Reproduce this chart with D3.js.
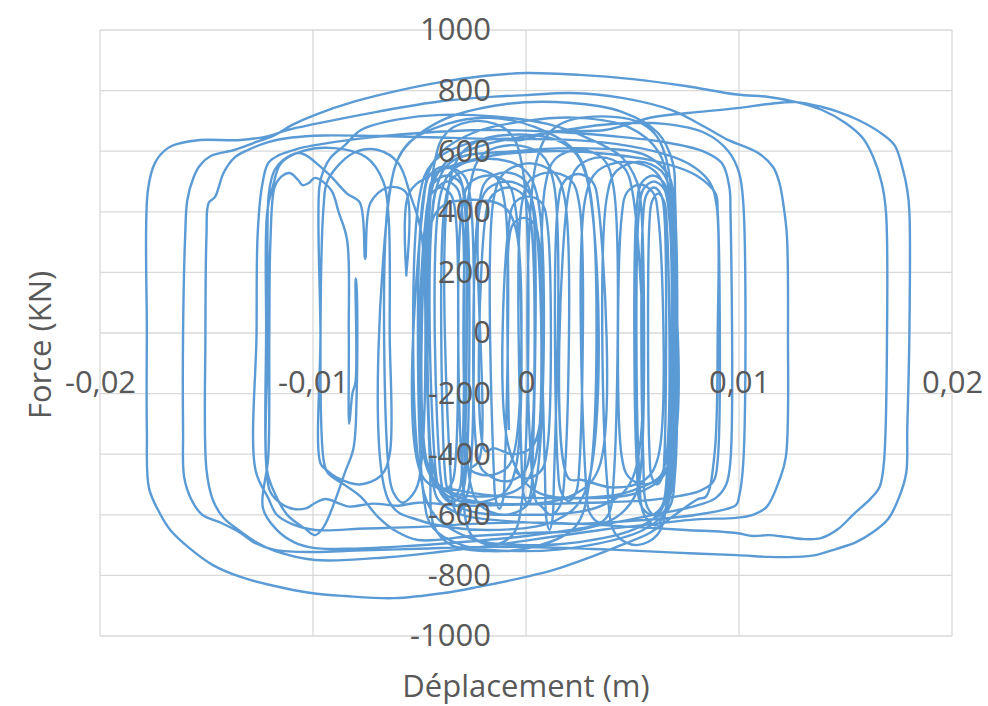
<!DOCTYPE html>
<html>
<head>
<meta charset="utf-8">
<script src="https://cdn.jsdelivr.net/npm/d3@7"></script>
<style>
  body { margin: 0; background: #fff; }
  #graph-container { width: 988px; height: 706px; }
  .tick text { font-family: "Open Sans", sans-serif; font-size: 31px; fill: #595959; }
  .title { font-family: "Open Sans", sans-serif; font-size: 31px; fill: #595959; }
</style>
</head>
<body>
<div id="graph-container"></div>
<script>
// DATA (displacement in mm, force in kN)
const xTicks = [-20, -10, 0, 10, 20]
const xTickLabels = ['-0,02', '-0,01', '0', '0,01', '0,02']
const yTicks = [-1000, -800, -600, -400, -200, 0, 200, 400, 600, 800, 1000]

// small central cycles
const loopC1 = [[-0.8,-320],[-0.8,305],[-0.6,360],[-0.1,380],[0.4,360],[0.6,305],[0.6,-320],[0.22,-380],[-0.65,-400],[-1.52,-380]]
const loopC2 = [[-1.9,-390],[-1.9,385],[-1.58,455],[-0.85,480],[-0.12,455],[0.2,385],[0.2,-390],[-0.16,-465],[-1.0,-490],[-1.84,-465]]
const loopC11 = [[-2.2,-430],[-2.2,425],[-1.83,505],[-0.95,530],[-0.08,505],[0.3,425],[0.3,-450],[0.22,-530],[0.05,-560],[-0.12,-530]]
const loopC3 = [[-0.2,-445],[-0.2,425],[0.2,505],[1.15,530],[2.1,505],[2.5,425],[2.5,-445],[2.35,-525],[2.0,-555],[1.65,-525]]
const loopC6 = [[1.5,-450],[1.5,420],[1.79,500],[2.45,525],[3.11,500],[3.4,420],[3.4,-450],[2.2,-535],[-0.6,-565],[-3.4,-535]]
const loopC4 = [[-4.6,-455],[-4.6,435],[-4.3,518],[-3.6,545],[-2.9,518],[-2.6,435],[-2.6,-455],[-2.81,-540],[-3.3,-570],[-3.79,-540]]
const loopC5 = [[-4.0,-480],[-4.0,460],[-3.32,545],[-1.75,575],[-0.18,545],[0.5,460],[0.5,-480],[0.03,-570],[-1.05,-600],[-2.13,-570]]
const loopC15 = [[-2.6,-500],[-2.6,495],[-2.01,590],[-0.65,620],[0.71,590],[1.3,495],[1.3,-520],[1.24,-615],[1.1,-650],[0.96,-615]]
const loopC12 = [[0.9,-500],[0.9,485],[1.38,575],[2.5,605],[3.62,575],[4.1,485],[4.1,-500],[3.9,-595],[3.45,-625],[3.0,-595]]
const loopC7 = [[2.8,-480],[2.8,450],[3.37,535],[4.7,565],[6.03,535],[6.6,450],[6.6,-480],[6.39,-570],[5.9,-600],[5.41,-570]]
const loopC8 = [[5.2,-435],[5.2,415],[5.42,495],[5.95,520],[6.48,495],[6.7,415],[6.7,-435],[5.0,-520],[0.95,-545],[-3.1,-520]]
const loopC10 = [[-4.8,-480],[-4.8,440],[-4.51,522],[-3.85,550],[-3.19,522],[-2.9,440],[-2.9,-480],[-2.99,-570],[-3.2,-600],[-3.41,-570]]
const loopC13 = [[-3.5,-520],[-3.5,525],[-2.55,622],[-0.35,655],[1.85,622],[2.8,525],[2.8,-520],[1.42,-618],[-1.8,-650],[-5.02,-618]]

// medium cycles
const loopM2 = [[-6.4,-560],[-6.4,460],[-5.8,600],[-4,700],[-1,755],[2,760],[4.5,730],[6.2,660],[6.9,560],[7.0,450],[7.0,-460],[6.7,-580],[5.5,-650],[3,-700],[0,-720],[-3,-700],[-4.4,-640]]
const loopM3 = [[-4.8,-540],[-4.8,460],[-4.2,580],[-2.5,660],[0,700],[2.5,710],[4.8,680],[6.2,600],[6.7,470],[6.7,-460],[6.3,-590],[5,-650],[2.5,-690],[0,-700],[-2.5,-680],[-4.3,-600]]

// large cycles
const loopBig = [
  [-5.0,-450],[-5.0,450],[-4.4,560],[-2.5,630],[0.5,640],[3.5,630],[6,600],[7.6,560],[8.6,500],[8.95,420],
  [9.0,0],[8.85,-400],[8.45,-540],[8.07,-548],[7,-600],[5.8,-660],[4.46,-700],[2.9,-743],[1.3,-782],[0,-805],
  [-2.25,-838],[-3.85,-858],[-6.2,-875],[-8.5,-868],[-10.1,-858],[-11.8,-835],[-13.4,-805],[-14.7,-766],[-15.8,-710],
  [-16.7,-650],[-17.2,-594],[-17.7,-512],[-17.8,-320],[-17.8,0],[-17.75,472],[-17.4,564],[-16.8,611],[-16.2,627],
  [-15.3,637],[-13.4,637],[-12.1,650],[-11.2,670],[-9.9,690],[-7,730],[-4,765],[-1.5,780],[0,785],[2.1,792],
  [4.5,776],[6.8,736],[8.4,680],[9.4,640],[10.9,594],[11.6,548],[11.9,495],[12.1,416],[12.25,320],[12.3,0],
  [12.2,-409],[11.9,-485],[11.3,-574],[10.65,-600],[9.86,-610],[8,-615],[6,-630],[3.5,-650],[1,-675],[-1.5,-700],
  [-4,-722],[-6.5,-740],[-9.9,-749],[-11.8,-719],[-12.6,-693],[-13.5,-650],[-14.2,-610],[-14.7,-551],[-15.0,-452],
  [-15.05,0],[-15.0,323],[-14.9,429],[-14.6,449],[-14.2,528],[-13.7,578],[-13.05,604],[-12.1,630],[-11,645],
  [-9.5,652],[-7,650],[-4,645],[-1.5,640],[-0.2,637],[1.3,665],[3.7,670],[6.0,713],[7.6,726],[9.9,742],
  [11.4,756],[12.7,762],[13.9,746],[14.7,729],[15.6,703],[16.6,663],[17.3,620],[17.7,538],[17.9,472],[18.0,400],
  [18.0,0],[17.9,-320],[17.85,-462],[17.5,-545],[17.0,-614],[16.3,-657],[15.5,-690],[14.55,-713],[13.6,-733],
  [12.6,-739],[11.4,-739],[9.9,-733],[7,-725],[4,-715],[1,-708],[-2,-706],[-5,-712],[-8,-718],[-9.9,-723],
  [-11.8,-716],[-12.8,-690],[-13.4,-660],[-14.3,-627],[-15.2,-600],[-15.7,-551],[-16.05,-475],[-16.1,-320],
  [-16.1,0],[-16.0,323],[-15.9,439],[-15.6,515],[-15.3,554],[-14.8,584],[-13.7,604],[-12.8,627],[-11.8,653],
  [-11.0,686],[-9.9,720],[-8,765],[-6,800],[-4,828],[-2,848],[0,858],[2.5,852],[5,838],[7.5,815],[9.9,787],
  [11.4,779],[12.7,762],[13.9,736],[15,693],[15.8,644],[16.3,581],[16.7,495],[16.9,400],[16.95,0],[16.8,-430],
  [16.6,-508],[16.2,-545],[15.35,-600],[14.65,-647],[13.85,-677],[13.0,-680],[12.2,-673],[11.4,-667],[10.65,-670],
  [9.86,-660],[7.5,-650],[5,-640],[2.5,-630],[0,-625],[-2.5,-630],[-5,-640],[-7.5,-645],[-9.9,-650],[-11,-630],
  [-11.7,-600],[-12.1,-545]
]

// cycles reversing near -12 mm and -9.6 mm
const loopK1 = [[-12.7,-452],[-12.65,0],[-12.6,323],[-12.4,482],[-12.1,561],[-11.6,587],[-11.2,597],[-10.6,610],[-9.9,620],[-8,640],[-5,660],[-2,670],[1,665],[4,650],[6.5,630],[8.3,600],[9.2,560],[9.55,480],[9.6,400],[9.6,-420],[9.4,-500],[8.9,-545],[8,-570],[6,-600],[3,-640],[0,-670],[-3,-690],[-6,-705],[-8.5,-712],[-9.9,-710],[-10.9,-690],[-11.7,-650],[-12.35,-578]]
const loopK3 = [[-12.1,-409],[-12.05,0],[-12.0,300],[-11.8,482],[-11.5,515],[-11.1,528],[-10.7,505],[-10.5,488],[-10.2,495],[-9.9,512],[-9.15,472],[-8.8,400],[-8.4,307],[-8.32,0],[-8.3,-300],[-8.15,-200],[-8.0,-160],[-8.0,180],[-7.95,150],[-7.95,-200],[-8.1,-380],[-8.5,-460],[-9.0,-560],[-9.5,-640],[-9.9,-667],[-10.4,-644],[-11.2,-601],[-11.8,-528]]
const loopK2 = [[-12.16,-452],[-12.1,0],[-12.07,462],[-11.8,538],[-11.4,571],[-10.9,591],[-10.6,594],[-10.2,581],[-9.9,564],[-9.2,520],[-8.4,460],[-7.8,430],[-7.55,245],[-7.3,430],[-6.5,480],[-5.65,465],[-5.62,190],[-5.5,460],[-4.5,520],[-2,580],[1,600],[4,590],[6.5,560],[8,520],[8.9,460],[9.0,400],[9.0,-420],[8.8,-490],[8.2,-520],[6,-550],[3,-560],[0,-565],[-3,-570],[-5.07,-560],[-6,-570],[-7.2,-563],[-8.3,-573],[-8.75,-563],[-9.4,-548],[-9.9,-561],[-10.3,-578],[-10.9,-581],[-11.4,-568],[-12.0,-525]]
const loopK5 = [[-12.2,-430],[-12.2,0],[-12.15,400],[-11.9,480],[-11.5,560],[-10.5,600],[-9,610],[-7.5,580],[-6.7,500],[-6.45,380],[-6.4,0],[-6.4,-400],[-6.8,-470],[-7.8,-500],[-8.8,-480],[-9.4,-450]]
const loopK4 = [[-9.65,-430],[-9.65,0],[-9.7,482],[-9.5,538],[-9.15,581],[-8.5,620],[-7.75,670],[-6,705],[-4,720],[-1.5,715],[1,690],[3,640],[4.5,580],[5.2,500],[5.4,420],[5.4,-440],[5.1,-540],[4.2,-610],[2.5,-650],[0,-660],[-2.5,-670],[-5.07,-683],[-6.2,-650],[-6.95,-607],[-7.75,-541],[-8.5,-502],[-9.3,-462]]
const loopH1 = [[-9.5,-420],[-9.5,420],[-9.3,505],[-8.1,594],[-6.95,604],[-6.0,561],[-5.4,449],[-4.9,323],[-4.9,-420],[-5.2,-520],[-5.8,-560],[-6.2,-530]]
const loopM4 = [[-6.4,-480],[-6.4,470],[-5.6,620],[-3.7,690],[-1.7,710],[0.4,680],[2.3,600],[3.0,470],[3.0,-480],[2.3,-640],[0.4,-705],[-1.7,-720],[-3.5,-700],[-4.3,-640]]
const loopM1 = [[-4.5,-450],[-4.5,450],[-3.8,560],[-2,620],[1,660],[4,690],[6.5,690],[8.4,660],[9.5,600],[10.0,530],[10.2,430],[10.2,-429],[10.0,-541],[9.86,-568],[8,-600],[5,-620],[2,-630],[-1,-620],[-3,-600],[-4.0,-560]]

// late central cycles
const loopC17 = [[-4.3,-520],[-4.3,560],[-3.68,665],[-2.25,700],[-0.82,665],[-0.2,560],[-0.2,-560],[-0.62,-665],[-1.6,-700],[-2.58,-665]]
const loopN1 = [[-3.0,-450],[-3.0,415],[-2.63,495],[-1.75,520],[-0.88,495],[-0.5,415],[-0.5,-450],[-1.08,-530],[-2.45,-560],[-3.82,-530]]
const loopN2 = [[-4.4,-430],[-4.4,400],[-4.19,475],[-3.7,500],[-3.21,475],[-3.0,400],[-3.0,-430],[-3.12,-515],[-3.4,-540],[-3.68,-515]]
const loopN4 = [[-3.8,-465],[-3.8,430],[-3.38,515],[-2.4,540],[-1.42,515],[-1.0,430],[-1.0,-465],[-1.08,-550],[-1.25,-580],[-1.42,-550]]
const loopN3 = [[-1.5,-480],[-1.5,450],[-1.0,530],[0.15,560],[1.3,530],[1.8,450],[1.8,-480],[1.6,-570],[1.15,-600],[0.7,-570]]
const loopC18 = [[0.5,-560],[0.5,570],[1.4,680],[3.55,715],[5.7,680],[6.6,570],[6.6,-560],[6.18,-665],[5.2,-700],[4.22,-665]]
const loopC14 = [[3.8,-485],[3.8,450],[4.25,535],[5.3,565],[6.35,535],[6.8,450],[6.8,-485],[6.6,-575],[6.15,-605],[5.7,-575]]
const loopC9 = [[5.5,-400],[5.5,385],[5.65,455],[6.0,480],[6.35,455],[6.5,385],[6.5,-400],[6.4,-475],[6.15,-500],[5.9,-475]]
const loopN7 = [[5.8,-400],[5.8,370],[5.92,435],[6.2,460],[6.48,435],[6.6,370],[6.6,-400],[6.28,-475],[5.55,-500],[4.82,-475]]
const loopC16 = [[4.5,-410],[4.5,390],[4.75,465],[5.35,490],[5.95,465],[6.2,390],[6.2,-410],[5.57,-485],[4.1,-510],[2.63,-485]]
const loopN5 = [[2.0,-480],[2.0,465],[2.45,550],[3.5,580],[4.55,550],[5.0,465],[5.0,-480],[3.55,-570],[0.15,-600],[-3.25,-570]]
const loopN6 = [[-4.7,-415],[-4.7,385],[-4.49,455],[-4.0,480],[-3.51,455],[-3.3,385],[-3.3,-415],[-3.48,-495],[-3.9,-520],[-4.32,-495]]
const loopN8 = [[-4.5,-375],[-4.5,350],[-3.9,420],[-2.5,440],[-1.1,420],[-0.5,350],[-0.5,-375],[-0.9,-445],[-1.8,-470],[-2.6,-450]]
const loopN9 = [[-2.2,-420],[-2.2,400],[-1.81,475],[-0.9,500],[0.01,475],[0.4,400],[0.4,-430],[-0.35,-515],[-2.1,-540],[-3.85,-515]]
const loopN10 = [[-4.6,-440],[-4.6,415],[-4.33,495],[-3.7,520],[-3.07,495],[-2.8,415],[-2.8,-440],[-3.01,-530],[-3.5,-560],[-3.99,-530]]
const loopN11 = [[-4.2,-480],[-4.2,480],[-3.4,570],[-0.5,600],[2.5,610],[5.5,590],[6.6,530],[6.9,470],[6.9,-480],[6.6,-580],[6.1,-635],[5.55,-600]]
const loopN12 = [[5.3,-440],[5.3,400],[5.51,475],[6.0,500],[6.49,475],[6.7,400],[6.7,-440],[5.5,-520],[2.95,-545],[0.4,-520]]
const loopN13 = [[-0.8,-380],[-0.8,360],[-0.53,430],[0.1,450],[0.73,430],[1.0,360],[1.0,-380],[0.7,-455],[0.0,-480],[-0.5,-455]]

// time order of the cycles
const sequence = [
  loopC1, loopC2, loopC11, loopC3, loopC6, loopC4, loopC5, loopC15, loopC12, loopC7, loopC8,
  loopC10, loopC13, loopM2, loopM3, loopBig, loopK1, loopK3, loopK2, loopK5, loopK4, loopH1,
  loopM4, loopM1, loopC17, loopN1, loopN2, loopN4, loopN3, loopC18, loopC14, loopC9, loopN7,
  loopC16, loopN5, loopN6, loopN8, loopN9, loopN10, loopN11, loopN12, loopN13
]

// SETTINGS
const settings = {
  width: 988,
  height: 706,
  plot: { left: 100, right: 952, top: 30, bottom: 636 },
  lineColor: '#5B9BD5',
  gridColor: '#D9D9D9'
}

const points = sequence.flat()

const svg = d3.select('#graph-container').append('svg')
  .attr('width', settings.width)
  .attr('height', settings.height)

const x = d3.scaleLinear()
  .domain([-20, 20])
  .range([settings.plot.left, settings.plot.right])

const y = d3.scaleLinear()
  .domain([-1000, 1000])
  .range([settings.plot.bottom, settings.plot.top])

// gridlines
svg.append('g')
  .selectAll('line')
  .data(yTicks)
  .enter().append('line')
  .attr('x1', settings.plot.left)
  .attr('x2', settings.plot.right)
  .attr('y1', d => y(d))
  .attr('y2', d => y(d))
  .attr('stroke', settings.gridColor)
  .attr('stroke-width', 1.3)

svg.append('g')
  .selectAll('line')
  .data(xTicks)
  .enter().append('line')
  .attr('x1', d => x(d))
  .attr('x2', d => x(d))
  .attr('y1', settings.plot.top)
  .attr('y2', settings.plot.bottom)
  .attr('stroke', settings.gridColor)
  .attr('stroke-width', 1.3)

// data line
const line = d3.line()
  .x(d => x(d[0]))
  .y(d => y(d[1]))
  .curve(d3.curveCatmullRom.alpha(0.5))

svg.append('path')
  .datum(points)
  .attr('d', line)
  .attr('fill', 'none')
  .attr('stroke', settings.lineColor)
  .attr('stroke-width', 2.4)
  .attr('stroke-linejoin', 'round')

// axes (labels drawn next to the zero lines)
const yAxis = d3.axisLeft(y).tickValues(yTicks).tickSize(0).tickPadding(35)
  .tickFormat(d => String(d))
svg.append('g')
  .attr('transform', `translate(${x(0)},0)`)
  .call(yAxis)
  .call(g => g.select('.domain').remove())

const xAxis = d3.axisBottom(x).tickValues(xTicks).tickSize(0).tickPadding(38)
  .tickFormat((d, i) => xTickLabels[i])
svg.append('g')
  .attr('transform', `translate(0,${y(0)})`)
  .call(xAxis)
  .call(g => g.select('.domain').remove())

svg.selectAll('.tick text').attr('font-family', null).attr('font-size', null)

// titles
svg.append('text')
  .attr('class', 'title')
  .attr('x', 526)
  .attr('y', 697)
  .attr('text-anchor', 'middle')
  .text('Déplacement (m)')

svg.append('text')
  .attr('class', 'title')
  .attr('transform', 'translate(51,345) rotate(-90)')
  .attr('text-anchor', 'middle')
  .text('Force (KN)')
</script>
</body>
</html>
